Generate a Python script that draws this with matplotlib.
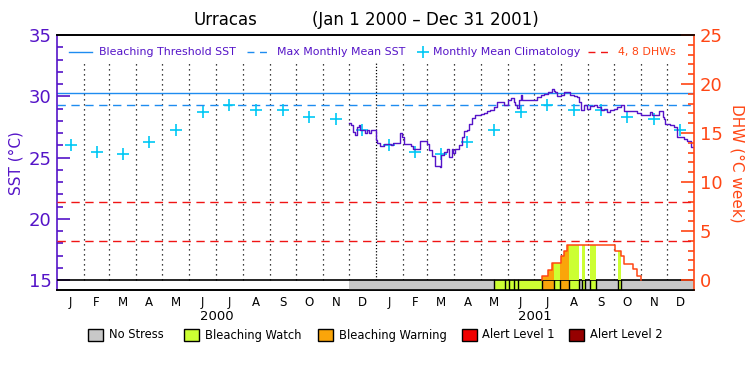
import numpy as np
import pandas as pd
import matplotlib
matplotlib.use("Agg")
import matplotlib.pyplot as plt
from matplotlib.lines import Line2D
from matplotlib.patches import Rectangle

# ---------------- data ----------------
site = "Urracas"
title_range = "(Jan 1 2000 \u2013 Dec 31 2001)"
month_letters = ['J', 'F', 'M', 'A', 'M', 'J', 'J', 'A', 'S', 'O', 'N', 'D']
years = [2000, 2001]
clim_sst = [26.05, 25.43, 25.29, 26.25, 27.28, 28.70, 29.27, 28.85, 28.85, 28.28, 28.17, 27.27]
mmm_sst = 29.27
threshold_sst = 30.27
dhw_levels = [4, 8]

# SST (days since 2001-01-01, deg C)
sst_day = [-31, -29, -26, -24, -22, -20, -18, -14, -12, -10, -8, -6, -1, 0, 1, 5, 9, 13, 17, 20,
           24, 28, 30, 32, 36, 40, 43, 47, 51, 57, 59, 61, 64, 68, 74, 75, 78, 82, 84, 87,
           89, 91, 95, 99, 101, 105, 107, 110, 114, 120, 124, 128, 131, 135, 139, 145, 147, 151, 152, 155,
           158, 160, 162, 164, 166, 168, 181, 185, 189, 193, 197, 198, 202, 204, 206, 208, 212, 216, 219, 223,
           227, 231, 233, 235, 239, 242, 246, 250, 254, 258, 262, 265, 269, 273, 277, 281, 285, 300, 304, 313,
           315, 317, 321, 325, 327, 329, 330, 332, 338, 342, 346, 349, 353, 357, 361, 365]
sst_val = [27.85, 27.63, 27.09, 26.82, 27.49, 27.63, 27.23, 27.23, 27.04, 27.23, 26.96, 27.23, 27.28, 26.41, 26.19, 25.92, 26.08, 26.14, 26.00, 26.19,
           26.19, 27.00, 26.68, 26.14, 26.14, 25.95, 25.73, 25.68, 26.35, 26.35, 26.08, 25.60, 25.11, 24.29, 24.23, 25.19, 25.46, 25.73, 25.05, 25.73,
           25.37, 25.73, 26.00, 26.68, 27.17, 27.23, 27.77, 28.26, 28.45, 28.59, 28.67, 28.80, 28.86, 29.12, 29.53, 29.53, 29.26, 29.34, 29.67, 29.89,
           29.53, 29.26, 29.08, 29.67, 30.08, 29.67, 29.67, 29.94, 30.08, 30.22, 30.16, 30.35, 30.62, 30.43, 30.35, 30.00, 30.08, 30.35, 30.35, 30.08,
           30.00, 29.94, 29.53, 28.86, 29.26, 28.99, 29.18, 29.26, 29.12, 28.86, 28.99, 28.72, 28.86, 28.99, 29.12, 29.26, 28.80, 28.67, 28.45, 28.45,
           28.72, 28.45, 28.45, 28.80, 28.80, 28.31, 28.18, 27.77, 27.63, 27.49, 26.68, 26.68, 26.47, 26.35, 25.86, 25.86]

# Degree heating weeks (days since 2001-01-01)
dhw_day = [190, 191, 197, 202, 212, 216, 219, 274, 281, 285, 295, 300, 304]
dhw_val = [0.0, 0.44, 1.02, 1.77, 2.45, 2.93, 3.54, 2.99, 2.45, 1.60, 1.09, 0.44, 0.0]

# Stress-level runs (start day since 2001-01-01; 0=no stress, 1=watch, 2=warning)
stress_start = [-31, 135, 148, 153, 159, 163, 191, 204, 211, 221, 233, 236, 240, 246, 253, 278, 281]
stress_level = [0, 1, 1, 1, 1, 1, 2, 1, 2, 1, 0, 1, 0, 1, 0, 1, 0]
stress_end_day = 365

legend_labels = ['No Stress', 'Bleaching Watch', 'Bleaching Warning', 'Alert Level 1', 'Alert Level 2']
legend_colors = ['#c8c8c8', '#ccff33', '#faa50a', '#f00000', '#960000']

# ---------------- style ----------------
PURPLE = '#5514c8'
CYAN = '#00c8f5'
BLUE = '#1e8cf0'
ORANGE = '#ff4614'
RED = '#f01414'
BLACK = 'black'

base = pd.Timestamp('2001-01-01')
def to_dt(days):
    return base + pd.to_timedelta(np.asarray(days, dtype=float), unit='D')

x0 = pd.Timestamp('2000-01-01')
x1 = pd.Timestamp('2002-01-01')
sst_lo = 15 - 10 / 12.25
dhw_lo = (sst_lo - 15) * 1.25

fig = plt.figure(figsize=(7.5, 3.75), dpi=100)
ax = fig.add_axes([57 / 750, 1 - 290 / 375, 637 / 750, 255 / 375])
ax.set_xlim(x0, x1)
ax.set_ylim(sst_lo, 35)
ax2 = ax.twinx()
ax2.set_ylim(dhw_lo, 25)
ax2.set_xlim(x0, x1)

# month grid lines
month_starts = pd.date_range('2000-02-01', '2001-12-01', freq='MS')
for m in month_starts:
    dense = (m == pd.Timestamp('2001-01-01'))
    ax.plot([m, m], [15, 32.7], color=BLACK, lw=0.9,
            ls=(0, (1, 1.5)) if dense else (0, (1, 3)), zorder=1)

# reference lines
ax.axhline(threshold_sst, color=BLUE, lw=1.0, zorder=2)
ax.axhline(mmm_sst, color=BLUE, lw=1.0, ls=(0, (6, 4)), zorder=2)
for lv in dhw_levels:
    ax2.axhline(lv, color=RED, lw=1.0, ls=(0, (6, 4)), zorder=2)

# climatology crosses
mid_months = []
vals = []
for y in years:
    for i in range(12):
        d0 = pd.Timestamp(year=y, month=i + 1, day=1)
        d1 = d0 + pd.offsets.MonthBegin(1)
        mid_months.append(d0 + (d1 - d0) / 2)
        vals.append(clim_sst[i])
ax.plot(mid_months, vals, ls='none', marker='+', ms=9, mew=1.2, color=CYAN, zorder=4)

# SST line
ax.plot(to_dt(sst_day), sst_val, color=PURPLE, lw=1.0, drawstyle='steps-post', zorder=5)

# daily grid for stress and DHW fill
days = np.arange(stress_start[0], stress_end_day + 1)
lvl = np.array(stress_level)[np.searchsorted(stress_start, days, side='right') - 1]
idx = np.searchsorted(dhw_day, days, side='right') - 1
dhw_daily = np.where(idx >= 0, np.array(dhw_val)[np.clip(idx, 0, None)], 0.0)
for k in (1, 2):
    mask = (lvl == k)
    mask = mask | np.concatenate([[False], mask[:-1]])
    ax2.fill_between(to_dt(days), 0, dhw_daily, where=mask, step='post',
                     color=legend_colors[k], lw=0, zorder=2)
ax2.plot(to_dt(dhw_day), dhw_val, color=ORANGE, lw=1.1, drawstyle='steps-post', zorder=6)

# stress bar
bar_top = (15 - sst_lo) / (35 - sst_lo)
ends = stress_start[1:] + [stress_end_day]
for s, e, l in zip(stress_start, ends, stress_level):
    ax.axvspan(to_dt([s])[0], to_dt([e])[0], ymin=0, ymax=bar_top,
               facecolor=legend_colors[l], edgecolor='none', lw=0, zorder=3)
for s in stress_start[1:]:
    ax.plot([to_dt([s])[0]] * 2, [sst_lo, 15], color=BLACK, lw=1.0, zorder=4)
ax.axhline(15, color=BLACK, lw=1.2, zorder=7)

# axes styling
for a in (ax, ax2):
    a.tick_params(axis='x', which='both', bottom=False, top=False, labelbottom=False)
    for sp in ('top', 'bottom'):
        a.spines[sp].set_color(BLACK)
        a.spines[sp].set_linewidth(1.2)
ax.spines['left'].set_color(PURPLE)
ax.spines['left'].set_linewidth(1.2)
ax.spines['right'].set_visible(False)
ax2.spines['left'].set_visible(False)
ax2.spines['right'].set_color(ORANGE)
ax2.spines['right'].set_linewidth(1.2)

ax.set_yticks([15, 20, 25, 30, 35])
ax.set_yticks(np.arange(15, 35, 1), minor=True)
ax.tick_params(axis='y', which='major', direction='in', length=9.5, width=1.2,
               colors=PURPLE, labelsize=13, pad=4)
ax.tick_params(axis='y', which='minor', direction='in', length=4.5, width=1.2, colors=PURPLE)
ax2.set_yticks([0, 5, 10, 15, 20, 25])
ax2.set_yticks(np.arange(0, 25, 1), minor=True)
ax2.tick_params(axis='y', which='major', direction='in', length=9.5, width=1.2,
                colors=ORANGE, labelsize=13, pad=4)
ax2.tick_params(axis='y', which='minor', direction='in', length=4.5, width=1.2, colors=ORANGE)

fig.text(16 / 750, 1 - 163 / 375, 'SST (\u00b0C)', color=PURPLE, fontsize=11,
         rotation=90, ha='center', va='center')
fig.text(737 / 750, 1 - 163 / 375, 'DHW (\u00b0C week)', color=ORANGE, fontsize=11,
         rotation=270, ha='center', va='center')

# month and year labels
for i, m in enumerate(mid_months):
    ax.text(m, -0.022, month_letters[i % 12], transform=ax.get_xaxis_transform(),
            ha='center', va='top', fontsize=8.5, color=BLACK)
for y in years:
    mid = pd.Timestamp(year=y, month=7, day=2)
    ax.text(mid, -0.077, str(y), transform=ax.get_xaxis_transform(),
            ha='center', va='top', fontsize=9.5, color=BLACK)

# title
fig.text(225 / 750, 1 - 20 / 375, site, ha='center', va='center', fontsize=12, color=BLACK)
fig.text(425 / 750, 1 - 20 / 375, title_range, ha='center', va='center', fontsize=12, color=BLACK)

# top legend (axes fraction coords)
ly = 0.933
tr = ax.transAxes
fs = 7.9
ax.add_line(Line2D([0.019, 0.055], [ly, ly], color=BLUE, lw=1.0, transform=tr))
ax.text(0.066, ly, 'Bleaching Threshold SST', color=PURPLE, fontsize=fs, va='center', transform=tr)
ax.add_line(Line2D([0.298, 0.331], [ly, ly], color=BLUE, lw=1.0, ls=(0, (5, 4)), transform=tr))
ax.text(0.345, ly, 'Max Monthly Mean SST', color=PURPLE, fontsize=fs, va='center', transform=tr)
ax.plot([0.5746], [ly], marker='+', ms=9, mew=1.2, color=CYAN, transform=tr)
ax.text(0.590, ly, 'Monthly Mean Climatology', color=PURPLE, fontsize=fs, va='center', transform=tr)
ax.add_line(Line2D([0.834, 0.871], [ly, ly], color=RED, lw=1.0, ls=(0, (5, 4)), transform=tr))
ax.text(0.881, ly, '4, 8 DHWs', color=ORANGE, fontsize=fs, va='center', transform=tr)

# bottom legend
box_x = [87.5, 184, 318, 462, 569]
text_x = [109, 205, 339, 482, 590]
for bx, tx, lab, col in zip(box_x, text_x, legend_labels, legend_colors):
    fig.patches.append(Rectangle((bx / 750, 1 - 341 / 375), 15 / 750, 12 / 375,
                                 facecolor=col, edgecolor=BLACK, lw=1.0,
                                 transform=fig.transFigure, figure=fig))
    fig.text(tx / 750, 1 - 335 / 375, lab, fontsize=8.3, va='center', ha='left', color=BLACK)

fig.savefig('out.png', dpi=100)
